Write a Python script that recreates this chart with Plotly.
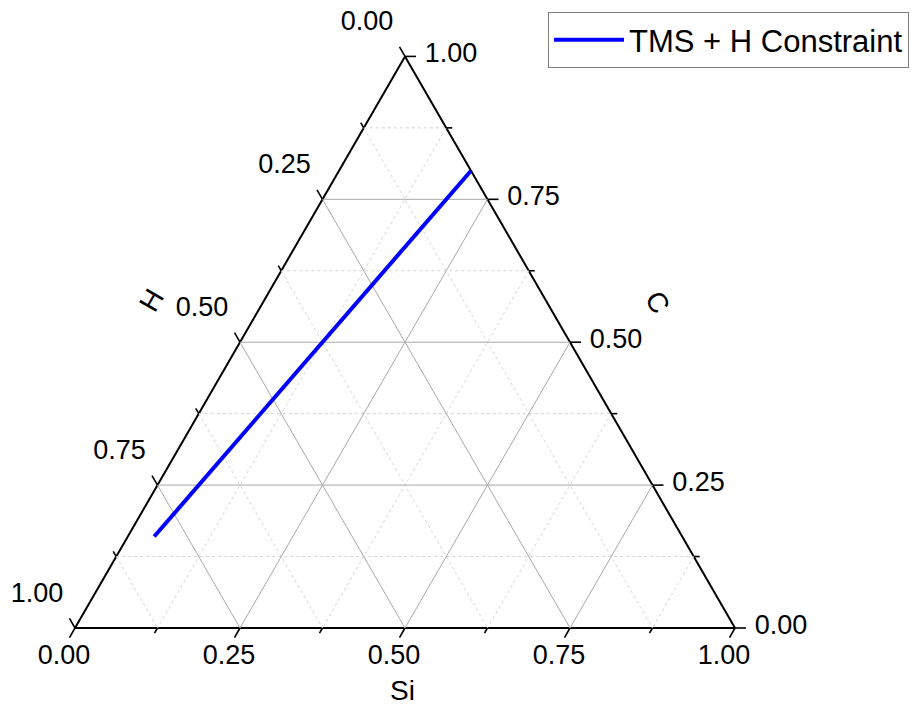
import numpy as np
import plotly.graph_objects as go

# ---------------- data ----------------
series_name = "TMS + H Constraint"
si_vals = [0.20, 0.04]   # Si fraction
c_vals = [0.80, 0.16]    # C fraction
h_vals = [0.00, 0.80]    # H fraction

major_ticks = [0.0, 0.25, 0.5, 0.75, 1.0]
minor_ticks = [0.125, 0.375, 0.625, 0.875]
tick_labels = ["0.00", "0.25", "0.50", "0.75", "1.00"]
title_si, title_h, title_c = "Si", "H", "C"

# ---------------- layout constants ----------------
W, HPX = 915, 721
X0PX, Y0PX = 75.0, 628.0          # bottom-left corner of the triangle (px)
SIDE = 660.0                      # triangle side (px)
HT = SIDE * np.sqrt(3) / 2        # triangle height (px)
DOM_X = [X0PX / W, (X0PX + SIDE) / W]
DOM_Y = [(HPX - Y0PX) / HPX, (HPX - Y0PX + HT) / HPX]
FONT = "Liberation Sans, Arial, sans-serif"
TICK_FONT = 27
TITLE_FONT = 28
MAJ_LEN, MIN_LEN = 11, 6
TICK_W = 1.6
# label offsets from the edge point (px, y downward)
LAB_OFF = {"left": (-38, -33), "bottom": (-11, 29), "right": (46, -1)}

fig = go.Figure()


def grid_lines(vals):
    ga, gb, gc = [], [], []
    for m in vals:
        ga += [m, m, None]; gb += [1 - m, 0, None]; gc += [0, 1 - m, None]
        ga += [1 - m, 0, None]; gb += [m, m, None]; gc += [0, 1 - m, None]
        ga += [1 - m, 0, None]; gb += [0, 1 - m, None]; gc += [m, m, None]
    return ga, gb, gc


ga, gb, gc = grid_lines(minor_ticks)
fig.add_trace(go.Scatterternary(a=ga, b=gb, c=gc, mode="lines",
                                line=dict(color="#d4d4d4", width=1, dash="dot"),
                                showlegend=False, hoverinfo="skip"))
ga, gb, gc = grid_lines(major_ticks[1:-1])
fig.add_trace(go.Scatterternary(a=ga, b=gb, c=gc, mode="lines",
                                line=dict(color="#a8a8a8", width=1),
                                showlegend=False, hoverinfo="skip"))

# data line  (a = C at top, b = H at bottom-left, c = Si at bottom-right)
fig.add_trace(go.Scatterternary(a=c_vals, b=h_vals, c=si_vals, mode="lines",
                                name=series_name,
                                line=dict(color="#0000ff", width=4)))


# ---- edge ticks and labels on a hidden overlay axis aligned with the triangle
# overlay coordinates: x = Si + C/2 (0..1 along base), y = C (0..1 up to apex)
def edge_point(edge, v):
    if edge == "left":      # Si = 0, H = v
        return (1 - v) / 2, 1 - v
    if edge == "bottom":    # C = 0, Si = v
        return v, 0.0
    return 1 - v / 2, v     # H = 0, C = v


def tick_dir(edge, t):
    if edge == "left":      # keep H: Si -> -t, C -> +t
        return -t / 2, t
    if edge == "bottom":    # keep Si: C -> -t, H -> +t
        return -t / 2, -t
    return t, 0.0           # keep C: H -> -t, Si -> +t


tx, ty = [], []
for edge in ["left", "bottom", "right"]:
    for vals, L in [(major_ticks, MAJ_LEN), (minor_ticks, MIN_LEN)]:
        for v in vals:
            x0, y0 = edge_point(edge, v)
            dx, dy = tick_dir(edge, L / SIDE)
            tx += [x0, x0 + dx, None]
            ty += [y0, y0 + dy, None]
fig.add_trace(go.Scatter(x=tx, y=ty, mode="lines", cliponaxis=False,
                         line=dict(color="black", width=TICK_W),
                         showlegend=False, hoverinfo="skip"))

lx, ly, lt = [], [], []
for edge in ["left", "bottom", "right"]:
    ox, oy = LAB_OFF[edge]
    for v, txt in zip(major_ticks, tick_labels):
        x0, y0 = edge_point(edge, v)
        lx.append(x0 + ox / SIDE)
        ly.append(y0 - oy / HT)
        lt.append(txt)
fig.add_trace(go.Scatter(x=lx, y=ly, mode="text", text=lt, cliponaxis=False,
                         textposition="middle center",
                         textfont=dict(family=FONT, size=TICK_FONT, color="black"),
                         showlegend=False, hoverinfo="skip"))

axis_common = dict(showline=True, linecolor="black", linewidth=2,
                   showgrid=False, ticks="", showticklabels=False,
                   layer="below traces", title=dict(text=""))

fig.update_layout(
    width=W, height=HPX,
    margin=dict(l=0, r=0, t=0, b=0),
    paper_bgcolor="white",
    plot_bgcolor="rgba(0,0,0,0)",
    xaxis=dict(domain=[0, 1], range=[-X0PX / SIDE, (W - X0PX) / SIDE],
               visible=False, fixedrange=True),
    yaxis=dict(domain=[0, 1], range=[-(HPX - Y0PX) / HT, Y0PX / HT],
               visible=False, fixedrange=True),
    ternary=dict(domain=dict(x=DOM_X, y=DOM_Y), sum=1, bgcolor="rgba(0,0,0,0)",
                 aaxis=axis_common, baxis=axis_common, caxis=axis_common),
    showlegend=True,
    legend=dict(x=909 / W, y=1 - 12 / HPX, xanchor="right", yanchor="top",
                bgcolor="white", bordercolor="#808080", borderwidth=1,
                itemwidth=70,
                font=dict(family=FONT, size=31, color="black")),
    annotations=[
        dict(text=title_h, x=151 / W, y=1 - 300 / HPX, xref="paper", yref="paper",
             xanchor="center", yanchor="middle",
             showarrow=False, textangle=-60, font=dict(family=FONT, size=TITLE_FONT, color="black")),
        dict(text=title_c, x=658 / W, y=1 - 302 / HPX, xref="paper", yref="paper",
             xanchor="center", yanchor="middle",
             showarrow=False, textangle=60, font=dict(family=FONT, size=TITLE_FONT, color="black")),
        dict(text=title_si, x=402 / W, y=1 - 690 / HPX, xref="paper", yref="paper",
             xanchor="center", yanchor="middle",
             showarrow=False, font=dict(family=FONT, size=TITLE_FONT, color="black")),
    ],
)

fig.write_html("out.html")
